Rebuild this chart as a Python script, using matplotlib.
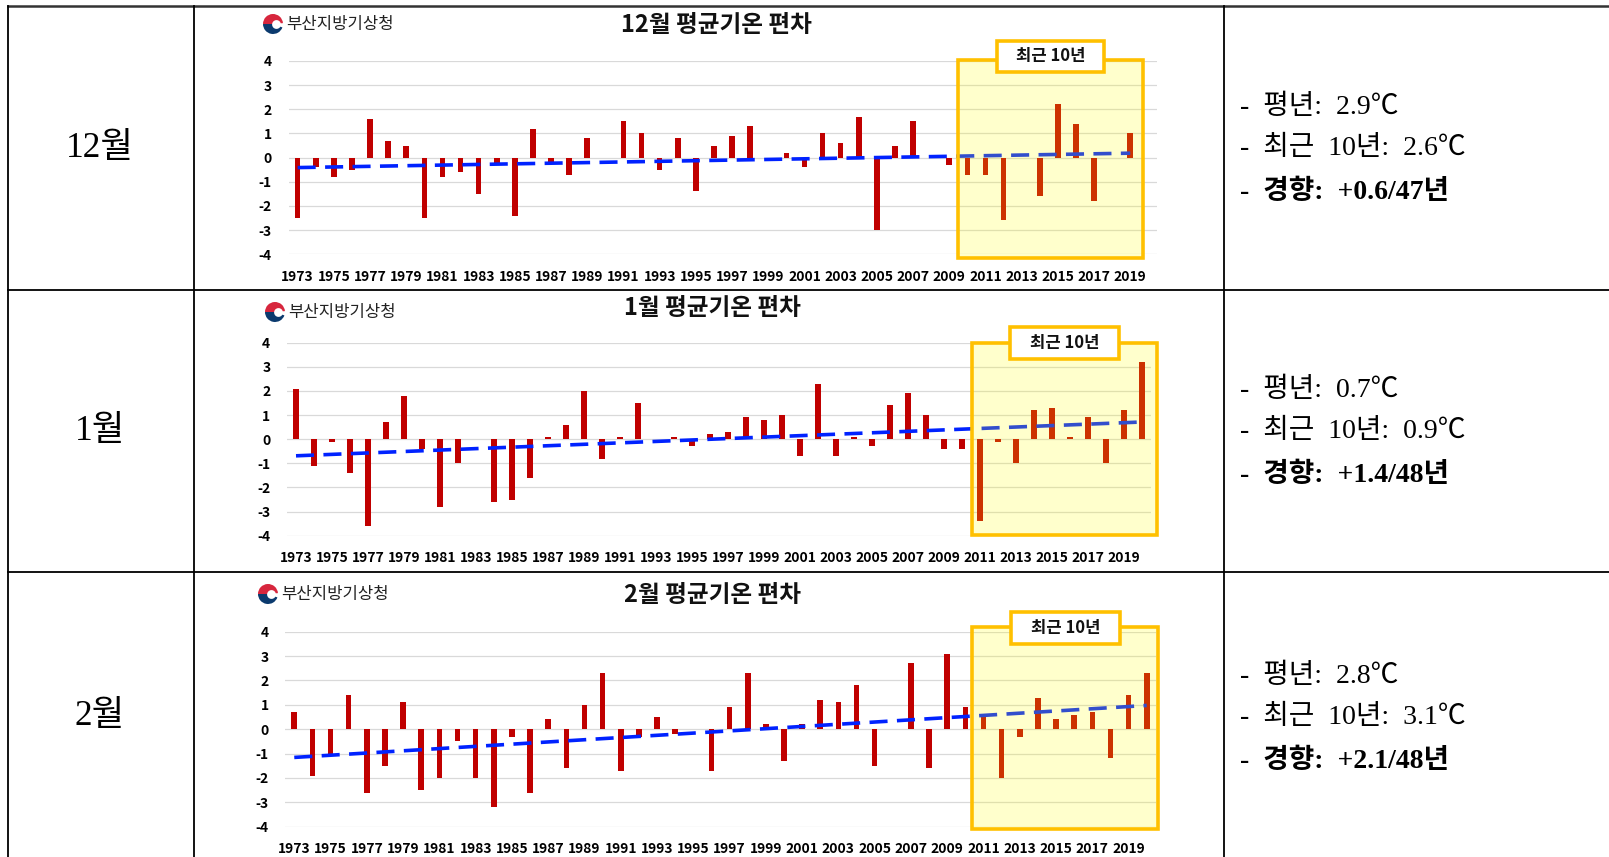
import numpy as np
import matplotlib
matplotlib.use('Agg')
import matplotlib.pyplot as plt
from matplotlib.patches import Rectangle, Wedge, Circle

plt.rcParams['font.family'] = ['Noto Sans CJK KR', 'DejaVu Sans']

# ---------------- data ----------------
years_dec = list(range(1973, 2020))   # 47 years
years_jf = list(range(1973, 2021))    # 48 years

dec_dev = [-2.5, -0.4, -0.8, -0.5, 1.6, 0.7, 0.5, -2.5, -0.8, -0.6,
           -1.5, -0.3, -2.4, 1.2, -0.2, -0.7, 0.8, 0.0, 1.5, 1.0,
           -0.5, 0.8, -1.4, 0.5, 0.9, 1.3, 0.0, 0.2, -0.4, 1.0,
           0.6, 1.7, -3.0, 0.5, 1.5, 0.0, -0.3, -0.7, -0.7, -2.6,
           0.0, -1.6, 2.2, 1.4, -1.8, 0.0, 1.0]

jan_dev = [2.1, -1.1, -0.1, -1.4, -3.6, 0.7, 1.8, -0.4, -2.8, -1.0,
           0.0, -2.6, -2.5, -1.6, 0.1, 0.6, 2.0, -0.8, 0.1, 1.5,
           0.0, 0.1, -0.3, 0.2, 0.3, 0.9, 0.8, 1.0, -0.7, 2.3,
           -0.7, 0.1, -0.3, 1.4, 1.9, 1.0, -0.4, -0.4, -3.4, -0.1,
           -1.0, 1.2, 1.3, 0.1, 0.9, -1.0, 1.2, 3.2]

feb_dev = [0.7, -1.9, -1.0, 1.4, -2.6, -1.5, 1.1, -2.5, -2.0, -0.5,
           -2.0, -3.2, -0.3, -2.6, 0.4, -1.6, 1.0, 2.3, -1.7, -0.3,
           0.5, -0.2, 0.0, -1.7, 0.9, 2.3, 0.2, -1.3, 0.2, 1.2,
           1.1, 1.8, -1.5, 0.0, 2.7, -1.6, 3.1, 0.9, 0.6, -2.0,
           -0.3, 1.3, 0.4, 0.6, 0.7, -1.2, 1.4, 2.3]

month_labels = ['12월', '1월', '2월']
titles = ['12월 평균기온 편차', '1월 평균기온 편차', '2월 평균기온 편차']
normal_text = ['2.9℃', '0.7℃', '2.8℃']
recent_text = ['2.6℃', '0.9℃', '3.1℃']
trend_text = ['+0.6/47년', '+1.4/48년', '+2.1/48년']
yticks = [-4, -3, -2, -1, 0, 1, 2, 3, 4]
org_name = '부산지방기상청'
recent_label = '최근 10년'

# ---------------- layout ----------------
W, H = 1609, 857
fig = plt.figure(figsize=(W / 100, H / 100), dpi=100)


def ax_px(x0, y0, x1, y1):
    return fig.add_axes([x0 / W, 1 - y1 / H, (x1 - x0) / W, (y1 - y0) / H])


charts = [
    dict(vals=dec_dev, years=years_dec, ax=(288.6, 61.0, 1157.4, 254.3),
         title_xy=(716, 25), logo_xy=(273, 24),
         box=(957.7, 60, 1142.7, 258), lab=(996.7, 40.7, 1104, 71.7),
         row_c=148),
    dict(vals=jan_dev, years=years_jf, ax=(287.0, 342.7, 1151.0, 535.7),
         title_xy=(712, 308), logo_xy=(275, 312),
         box=(971.7, 343.3, 1156.7, 535), lab=(1010, 326.7, 1119.3, 359),
         row_c=431),
    dict(vals=feb_dev, years=years_jf, ax=(285.2, 631.7, 1155.8, 826.7),
         title_xy=(713, 595), logo_xy=(268, 594),
         box=(971.7, 627.3, 1158.3, 829.3), lab=(1011, 612.3, 1120, 644),
         row_c=717),
]

BAR = '#C00000'
BLUE = '#0022FF'
GOLD = '#FFC000'

for c in charts:
    ax = ax_px(*c['ax'])
    yrs = np.array(c['years'])
    vals = np.array(c['vals'])
    ax.bar(yrs, vals, width=0.31, color=BAR, zorder=2)
    k, b = np.polyfit(yrs, vals, 1)
    ax.plot([yrs[0], yrs[-1]], [k * yrs[0] + b, k * yrs[-1] + b],
            color=BLUE, lw=2.6, dashes=(5, 2.6), zorder=3,
            solid_capstyle='butt', dash_capstyle='butt')
    ax.set_xlim(1972.5, 2020.5)
    ax.set_ylim(-4, 4)
    ax.set_yticks(yticks)
    ax.set_yticklabels([str(t) for t in yticks], fontsize=10, fontweight='bold')
    xt = list(range(1973, 2020, 2))
    ax.set_xticks(xt)
    ax.set_xticklabels([str(t) for t in xt], fontsize=10, fontweight='bold')
    ax.tick_params(length=0)
    ax.tick_params(axis='y', pad=12)
    ax.tick_params(axis='x', pad=11)
    ax.grid(axis='y', color='#D9D9D9', lw=0.9, zorder=0)
    ax.set_axisbelow(True)
    for s in ax.spines.values():
        s.set_visible(False)
    ax.patch.set_alpha(0)

# overlay in pixel coordinates
ov = fig.add_axes([0, 0, 1, 1])
ov.set_xlim(0, W)
ov.set_ylim(H, 0)
ov.axis('off')
ov.set_zorder(10)
ov.patch.set_alpha(0)

# table lines
lw_t = 1.3
ov.plot([8, W], [5.7, 5.7], color='#333333', lw=1.8)
for y in (290, 572.3):
    ov.plot([8, W], [y, y], color='black', lw=lw_t)
for x in (8, 194.3, 1224):
    ov.plot([x, x], [5.7, H], color='black', lw=lw_t)

serif = ['Liberation Serif', 'Noto Sans CJK KR']
for i, c in enumerate(charts):
    rc = c['row_c']
    ov.text(100, rc, month_labels[i], fontsize=25.5, family=serif,
            ha='center', va='center', color='black')
    ov.text(1240, rc - 41, '-  평년:  ' + normal_text[i], fontsize=20,
            family=serif, ha='left', va='center')
    ov.text(1240, rc, '-  최근  10년:  ' + recent_text[i], fontsize=20,
            family=serif, ha='left', va='center')
    ov.text(1240, rc + 44, '-  경향:  ' + trend_text[i], fontsize=20,
            family=serif, fontweight='bold', ha='left', va='center')

    # chart title
    tx, ty = c['title_xy']
    ov.text(tx, ty, titles[i], fontsize=17, fontweight='bold',
            ha='center', va='center', color='#111111')

    # logo
    lx, ly = c['logo_xy']
    r = 10
    ov.add_patch(Wedge((lx, ly), r, 180, 355, color='#D7263D', lw=0))
    ov.add_patch(Wedge((lx, ly), r, 20, 180, color='#0B3A6E', lw=0))
    ov.add_patch(Circle((lx + 3.5, ly + 0.5), 4.4, color='white', lw=0))
    ov.text(lx + 13, ly, org_name, fontsize=12, ha='left', va='center',
            color='#222222')

    # recent 10-year highlight
    x0, y0, x1, y1 = c['box']
    ov.add_patch(Rectangle((x0, y0), x1 - x0, y1 - y0,
                           facecolor=(1, 1, 0, 0.2), edgecolor=GOLD, lw=2.6))
    a0, b0, a1, b1 = c['lab']
    ov.add_patch(Rectangle((a0, b0), a1 - a0, b1 - b0,
                           facecolor='white', edgecolor=GOLD, lw=2.6))
    ov.text((a0 + a1) / 2, (b0 + b1) / 2, recent_label, fontsize=12,
            fontweight='bold', ha='center', va='center', color='#111111')

fig.savefig('out.png', dpi=100)
